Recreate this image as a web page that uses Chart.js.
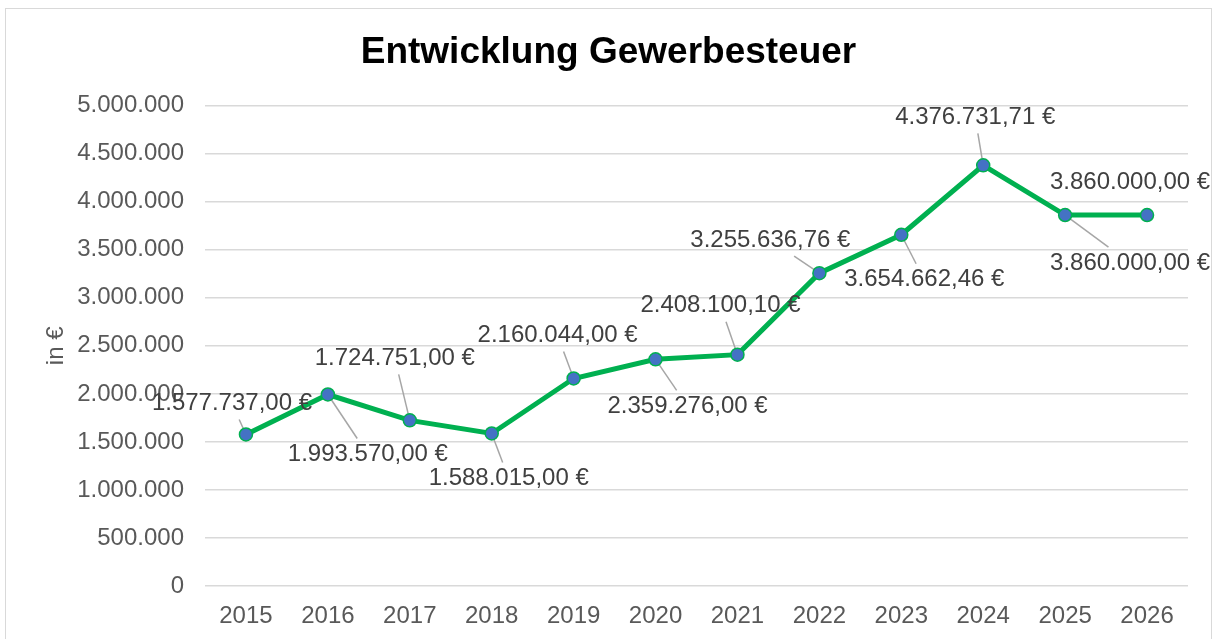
<!DOCTYPE html>
<html>
<head>
<meta charset="utf-8">
<script src="https://cdn.jsdelivr.net/npm/chart.js@4"></script>
<style>
  html, body { margin: 0; padding: 0; background: #fff; }
  #wrap { width: 1217px; height: 639px; }
</style>
</head>
<body>
<div id="wrap"><canvas id="chart" width="1217" height="639"></canvas></div>
<script>
const years = ['2015', '2016', '2017', '2018', '2019', '2020', '2021', '2022', '2023', '2024', '2025', '2026'];
const gewerbesteuer = [1577737.00, 1993570.00, 1724751.00, 1588015.00, 2160044.00, 2359276.00,
    2408100.10, 3255636.76, 3654662.46, 4376731.71, 3860000.00, 3860000.00];
const yTicks = [0, 500000, 1000000, 1500000, 2000000, 2500000, 3000000, 3500000, 4000000, 4500000, 5000000];

// where each data label sits relative to its point (Excel moved them by hand)
const labelOffsets = [[-14, -31], [40, 60], [-15, -62], [17, 45], [-16, -43], [32, 47],
    [-17, -49], [-49, -33], [23, 45], [-8, -48], [65, 48], [-17, -33]];
const showLeader = [true, true, true, true, true, true, true, true, true, true, true, false];

const FONT = '"Liberation Sans", Arial, sans-serif';

function fmtDE(n, decimals) {
    const parts = n.toFixed(decimals).split('.');
    const intPart = parts[0].replace(/\B(?=(\d{3})+(?!\d))/g, '.');
    return decimals ? intPart + ',' + parts[1] : intPart;
}

const frame = {
    id: 'frame',
    beforeDraw(chart) {
        const ctx = chart.ctx;
        ctx.save();
        ctx.fillStyle = '#fff';
        ctx.fillRect(0, 0, chart.width, chart.height);
        ctx.strokeStyle = '#d9d9d9';
        ctx.lineWidth = 1;
        ctx.strokeRect(5.5, 8.5, 1206, 640);
        ctx.restore();
    }
};

function labelBoxes(chart) {
    const meta = chart.getDatasetMeta(0);
    const ctx = chart.ctx;
    ctx.font = '24px ' + FONT;
    return meta.data.map(function(pt, i) {
        const text = fmtDE(gewerbesteuer[i], 2) + ' €';
        const w = ctx.measureText(text).width;
        const cx = pt.x + labelOffsets[i][0];
        const cy = pt.y + labelOffsets[i][1];
        return { text: text, cx: cx, cy: cy, w: w, h: 22, px: pt.x, py: pt.y };
    });
}

const dataLabels = {
    id: 'dataLabels',
    beforeDatasetsDraw(chart) {
        const ctx = chart.ctx;
        ctx.save();
        ctx.strokeStyle = '#a6a6a6';
        ctx.lineWidth = 1.5;
        labelBoxes(chart).forEach(function(b, i) {
            if (!showLeader[i]) return;
            // clip the line centre->point at the label box (plus a little gap)
            const hw = b.w / 2 + 3, hh = b.h / 2 + 5;
            const dx = b.px - b.cx, dy = b.py - b.cy;
            let t = Math.min(dx !== 0 ? hw / Math.abs(dx) : Infinity, dy !== 0 ? hh / Math.abs(dy) : Infinity);
            if (t >= 1) return;
            ctx.beginPath();
            ctx.moveTo(b.cx + dx * t, b.cy + dy * t);
            ctx.lineTo(b.px, b.py);
            ctx.stroke();
        });
        ctx.restore();
    },
    afterDatasetsDraw(chart) {
        const ctx = chart.ctx;
        ctx.save();
        ctx.fillStyle = '#404040';
        ctx.textAlign = 'center';
        ctx.textBaseline = 'middle';
        labelBoxes(chart).forEach(function(b) {
            ctx.fillText(b.text, b.cx, b.cy);
        });
        ctx.restore();
    }
};

new Chart(document.getElementById('chart'), {
    type: 'line',
    data: {
        labels: years,
        datasets: [{
            label: 'Gewerbesteuer',
            data: gewerbesteuer,
            borderColor: '#00b050',
            borderWidth: 5,
            pointRadius: 6.5,
            pointBackgroundColor: '#4472c4',
            pointBorderColor: '#00b050',
            pointBorderWidth: 1.5,
            tension: 0
        }]
    },
    options: {
        responsive: false,
        animation: false,
        layout: { padding: { left: 0, right: 0, top: 0, bottom: 0 } },
        plugins: {
            legend: { display: false },
            tooltip: { enabled: false },
            title: {
                display: true,
                text: 'Entwicklung Gewerbesteuer',
                color: '#000',
                font: { family: FONT, size: 37, weight: 'bold' },
                padding: { top: 31, bottom: 30 }
            }
        },
        scales: {
            x: {
                offset: true,
                grid: { display: false },
                border: { display: false },
                ticks: { color: '#595959', font: { family: FONT, size: 24 }, padding: 8, maxRotation: 0 }
            },
            y: {
                min: 0,
                max: 5000000,
                afterBuildTicks(axis) { axis.ticks = yTicks.map(function(v) { return { value: v }; }); },
                afterFit(axis) { axis.width = 205; },
                grid: { color: '#d9d9d9', lineWidth: 1.5, drawTicks: false },
                border: { display: false },
                ticks: {
                    color: '#595959',
                    font: { family: FONT, size: 24 },
                    padding: 21,
                    callback: function(v) { return fmtDE(v, 0); }
                },
                title: {
                    display: true,
                    text: 'in €',
                    color: '#595959',
                    font: { family: FONT, size: 24 },
                    padding: { top: 42, bottom: 0 }
                }
            },
            // empty axis on the right, only to keep the plot area clear of the frame
            yRight: {
                position: 'right',
                display: true,
                afterFit(axis) { axis.width = 29; },
                grid: { display: false, drawOnChartArea: false },
                border: { display: false },
                ticks: { display: false }
            }
        }
    },
    plugins: [frame, dataLabels]
});
</script>
</body>
</html>
